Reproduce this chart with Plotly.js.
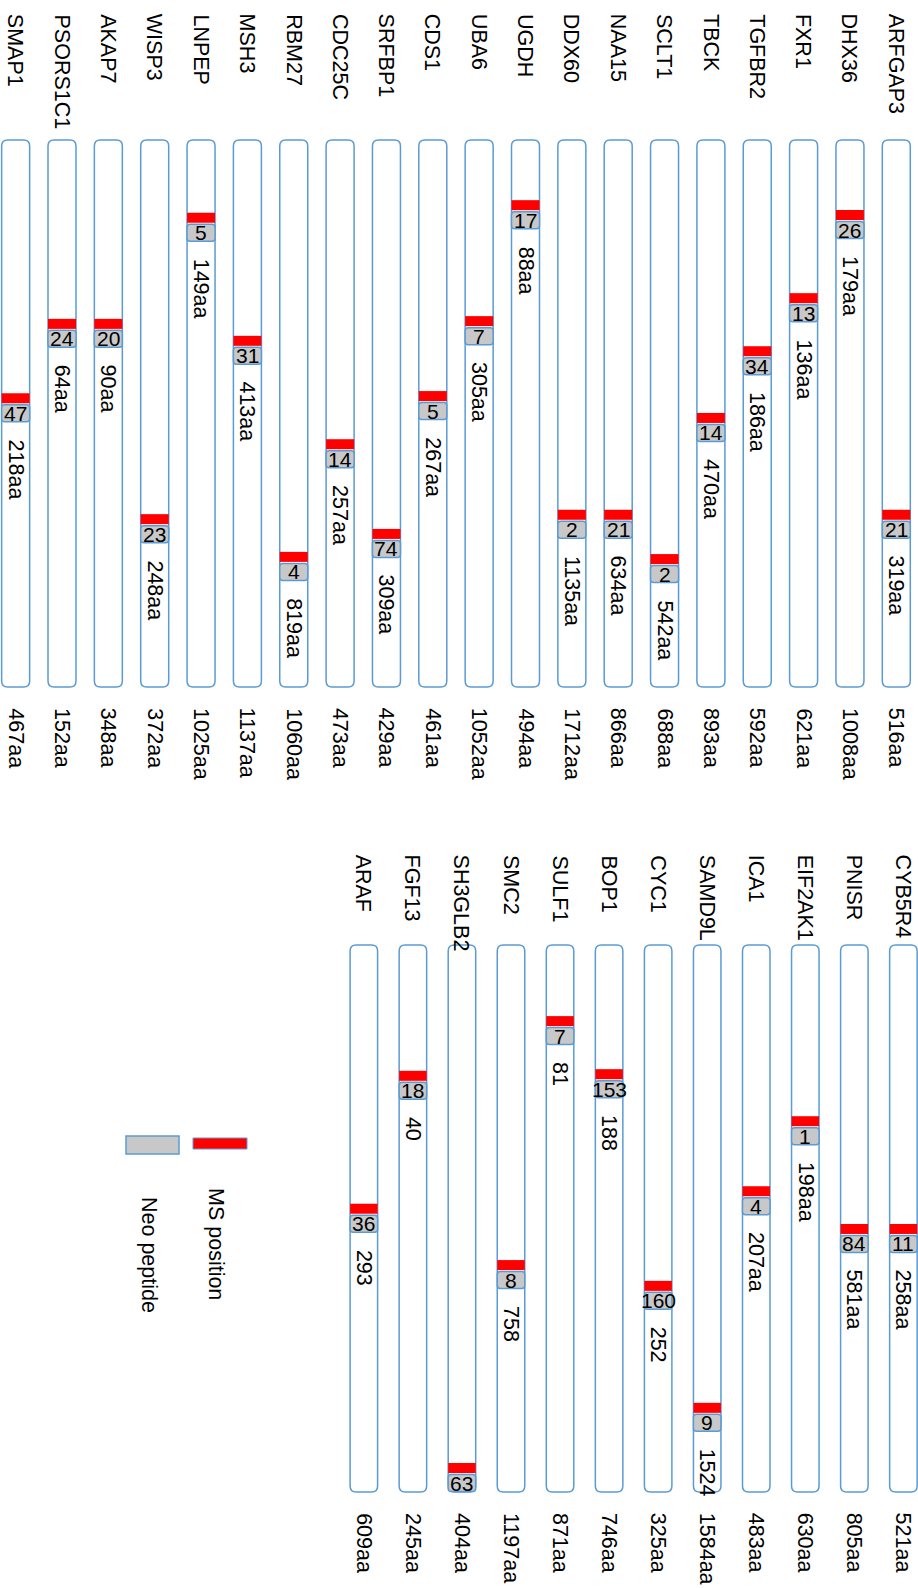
<!DOCTYPE html>
<html><head><meta charset="utf-8">
<script src="https://cdn.plot.ly/plotly-3.0.1.min.js"></script>
<style>html,body{margin:0;padding:0;background:#fff}#chart{width:918px;height:1588px}</style>
</head><body><div id="chart"></div>
<script>
// ---------- DATA (panel A: left block, listed from right to left) ----------
const genesA = ['ARFGAP3','DHX36','FXR1','TGFBR2','TBCK','SCLT1','NAA15','DDX60','UGDH','UBA6','CDS1','SRFBP1','CDC25C','RBM27','MSH3','LNPEP','WISP3','AKAP7','PSORS1C1','SMAP1'];
const lengthsA = ['516aa','1008aa','621aa','592aa','893aa','688aa','866aa','1712aa','494aa','1052aa','461aa','429aa','473aa','1060aa','1137aa','1025aa','372aa','348aa','152aa','467aa'];
const siteLabelsA = ['319aa','179aa','136aa','186aa','470aa','542aa','634aa','1135aa','88aa','305aa','267aa','309aa','257aa','819aa','413aa','149aa','248aa','90aa','64aa','218aa'];
const neoCountsA = [21,26,13,34,14,2,21,2,17,7,5,74,14,4,31,5,23,20,24,47];
const msFracA = [0.676,0.128,0.280,0.377,0.499,0.757,0.676,0.676,0.110,0.322,0.459,0.711,0.547,0.753,0.358,0.133,0.684,0.327,0.327,0.463];

// ---------- DATA (panel B: right block) ----------
const genesB = ['CYB5R4','PNISR','EIF2AK1','ICA1','SAMD9L','CYC1','BOP1','SULF1','SMC2','SH3GLB2','FGF13','ARAF'];
const lengthsB = ['521aa','805aa','630aa','483aa','1584aa','325aa','746aa','871aa','1197aa','404aa','245aa','609aa'];
const siteLabelsB = ['258aa','581aa','198aa','207aa','1524','252','188','81','758','','40','293'];
const neoCountsB = [11,84,1,4,9,160,153,7,8,63,18,36];
const msFracB = [0.510,0.510,0.313,0.441,0.837,0.614,0.227,0.130,0.576,0.947,0.230,0.473];

const legendLabels = ['MS position','Neo peptide'];

// ---------- STYLE / LAYOUT ----------
const W = 918, H = 1588;
const FONT = '"Liberation Sans", Arial, Helvetica, sans-serif';
const BLUE = '#5B9BD5';
const RED = '#FF0000';
const GREY = '#C8C8C8';
const TXT = 21.5, NUM = 21;

const panels = [
  {genes:genesA, lens:lengthsA, sites:siteLabelsA, neo:neoCountsA, frac:msFracA,
   xa:'x', ya:'y', rowPx0:896.3, rowStep:46.35, barTop:140, barBottom:687, halfW:14,
   nameTop:12, lenTop:706, domain:[0.5,1]},
  {genes:genesB, lens:lengthsB, sites:siteLabelsB, neo:neoCountsB, frac:msFracB,
   xa:'x2', ya:'y2', rowPx0:903.4, rowStep:49.05, barTop:945, barBottom:1492, halfW:13.75,
   nameTop:853, lenTop:1511, domain:[0,0.5]}
];

function xRange(p){ return [p.rowPx0/p.rowStep, (p.rowPx0 - W)/p.rowStep]; }
function yRange(p){
  const topPx = (1-p.domain[1])*H, botPx = (1-p.domain[0])*H, L = p.barBottom - p.barTop;
  return [(botPx - p.barTop)/L, (topPx - p.barTop)/L];
}

const shapes = [], annotations = [], traces = [];

panels.forEach(p => {
  const L = p.barBottom - p.barTop;
  const hw = p.halfW, r = 6, ry = r / L;
  const xref = p.xa, yref = p.ya;
  traces.push({type:'scatter', mode:'markers', x:p.genes.map((g,i)=>i), y:p.frac,
    xaxis:p.xa, yaxis:p.ya, marker:{size:1, opacity:0}, hoverinfo:'skip', showlegend:false});
  p.genes.forEach((g,i) => {
    // protein bar (full length, rounded)
    shapes.push({type:'path', xref, yref, xsizemode:'pixel', xanchor:i,
      path:`M ${-hw},${ry} Q ${-hw},0 ${-hw+r},0 L ${hw-r},0 Q ${hw},0 ${hw},${ry} L ${hw},${1-ry} Q ${hw},1 ${hw-r},1 L ${-hw+r},1 Q ${-hw},1 ${-hw},${1-ry} Z`,
      fillcolor:'#FFFFFF', line:{color:BLUE, width:1.5}, layer:'above'});
    // MS position (red)
    shapes.push({type:'rect', xref, yref, xsizemode:'pixel', ysizemode:'pixel', xanchor:i, yanchor:p.frac[i],
      x0:-hw, x1:hw, y0:0, y1:-10, fillcolor:RED, line:{width:0}, layer:'above'});
    // neo peptide box (grey)
    const r2 = 3, t = -11.5, b = -28.5;
    shapes.push({type:'path', xref, yref, xsizemode:'pixel', ysizemode:'pixel', xanchor:i, yanchor:p.frac[i],
      path:`M ${-hw},${t-r2} Q ${-hw},${t} ${-hw+r2},${t} L ${hw-r2},${t} Q ${hw},${t} ${hw},${t-r2} L ${hw},${b+r2} Q ${hw},${b} ${hw-r2},${b} L ${-hw+r2},${b} Q ${-hw},${b} ${-hw},${b+r2} Z`,
      fillcolor:GREY, line:{color:BLUE, width:1.5}, layer:'above'});
    // texts
    annotations.push({xref, yref:'paper', x:i, y:1 - p.nameTop/H, text:g, showarrow:false,
      textangle:90, xanchor:'center', yanchor:'top', font:{family:FONT, size:TXT, color:'#000'}});
    annotations.push({xref, yref:'paper', x:i, y:1 - p.lenTop/H, text:p.lens[i], showarrow:false,
      textangle:90, xanchor:'center', yanchor:'top', font:{family:FONT, size:TXT, color:'#000'}});
    if (p.sites[i]) annotations.push({xref, yref, x:i, y:p.frac[i], yshift:-44, text:p.sites[i], showarrow:false,
      textangle:90, xanchor:'center', yanchor:'top', font:{family:FONT, size:TXT, color:'#000'}});
    annotations.push({xref, yref, x:i, y:p.frac[i], yshift:-20, text:String(p.neo[i]), showarrow:false,
      xanchor:'center', yanchor:'middle', font:{family:FONT, size:NUM, color:'#000'}});
  });
});

// legend (paper coordinates)
function px(x){return x/W;} function py(y){return 1 - y/H;}
shapes.push({type:'rect', xref:'paper', yref:'paper', x0:px(193), x1:px(247), y0:py(1138), y1:py(1149),
  fillcolor:RED, line:{color:BLUE, width:1}});
shapes.push({type:'rect', xref:'paper', yref:'paper', x0:px(126), x1:px(179), y0:py(1136), y1:py(1154),
  fillcolor:GREY, line:{color:BLUE, width:1.5}});
annotations.push({xref:'paper', yref:'paper', x:px(216), y:py(1186), text:legendLabels[0], showarrow:false,
  textangle:90, xanchor:'center', yanchor:'top', font:{family:FONT, size:TXT, color:'#000'}});
annotations.push({xref:'paper', yref:'paper', x:px(149), y:py(1195), text:legendLabels[1], showarrow:false,
  textangle:90, xanchor:'center', yanchor:'top', font:{family:FONT, size:TXT, color:'#000'}});

const axisCommon = {visible:false, showgrid:false, zeroline:false, fixedrange:true};
const layout = {
  width:W, height:H, margin:{l:0,r:0,t:0,b:0},
  paper_bgcolor:'#FFFFFF', plot_bgcolor:'rgba(0,0,0,0)', showlegend:false,
  xaxis: Object.assign({}, axisCommon, {domain:[0,1], range:xRange(panels[0]), anchor:'y'}),
  yaxis: Object.assign({}, axisCommon, {domain:panels[0].domain, range:yRange(panels[0]), anchor:'x'}),
  xaxis2: Object.assign({}, axisCommon, {domain:[0,1], range:xRange(panels[1]), anchor:'y2'}),
  yaxis2: Object.assign({}, axisCommon, {domain:panels[1].domain, range:yRange(panels[1]), anchor:'x2'}),
  shapes, annotations
};
Plotly.newPlot('chart', traces, layout, {staticPlot:true, displayModeBar:false});
</script>
</body></html>
